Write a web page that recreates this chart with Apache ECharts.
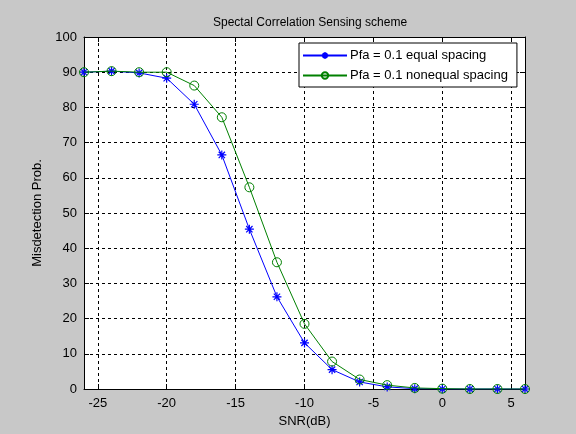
<!DOCTYPE html>
<html>
<head>
<meta charset="utf-8">
<script src="https://cdn.jsdelivr.net/npm/echarts@6/dist/echarts.min.js"></script>
<style>
  html, body { margin: 0; padding: 0; background: #c8c8c8; }
  #chart { width: 576px; height: 434px; }
</style>
</head>
<body>
<div id="chart"></div>
<script>
const snr = [-26, -24, -22, -20, -18, -16, -14, -12, -10, -8, -6, -4, -2, 0, 2, 4, 6]
const equalSpacing = [90, 90.3, 89.8, 88.3, 80.9, 66.5, 45.4, 26.2, 13.1, 5.5, 2.0, 0.6, 0.1, 0, 0, 0, 0]
const nonequalSpacing = [90, 90.3, 90, 90, 86.2, 77.2, 57.3, 36.0, 18.5, 7.8, 2.7, 1.1, 0.3, 0.1, 0, 0, 0]
const xTicks = [-25, -20, -15, -10, -5, 0, 5]

const font = 'Liberation Sans, Arial, sans-serif'
const star = 'path://M5,0L5,10M0,5L10,5M1.5,1.5L8.5,8.5M1.5,8.5L8.5,1.5'

const chart = echarts.init(document.getElementById('chart'))

const xBase = {
  type: 'value',
  min: -26,
  max: 6,
  axisLine: { show: true, onZero: false, lineStyle: { color: '#000', width: 1 } },
  axisTick: { show: true, inside: true, length: 5, customValues: xTicks, lineStyle: { color: '#000' } },
}
const yBase = {
  type: 'value',
  min: 0,
  max: 100,
  interval: 10,
  axisLine: { show: true, onZero: false, lineStyle: { color: '#000', width: 1 } },
  axisTick: { show: true, inside: true, length: 5, lineStyle: { color: '#000' } },
}

chart.setOption({
  backgroundColor: '#c8c8c8',
  animation: false,
  title: {
    text: 'Spectal Correlation Sensing scheme',
    left: 305,
    textAlign: 'center',
    top: 12,
    textStyle: { color: '#000', fontSize: 12, fontWeight: 'normal', fontFamily: font },
  },
  legend: {
    left: 299,
    top: 43,
    orient: 'vertical',
    backgroundColor: '#fff',
    borderColor: '#000',
    borderWidth: 1,
    borderRadius: 0,
    padding: [6, 9, 5, 3],
    itemGap: 7,
    itemWidth: 44,
    itemHeight: 8,
    textStyle: { color: '#000', fontSize: 13, fontFamily: font, padding: [0, 0, 0, -2] },
    data: ['Pfa = 0.1 equal spacing', 'Pfa = 0.1 nonequal spacing'],
  },
  grid: { left: 84, right: 51, top: 37, bottom: 45, show: true, backgroundColor: '#fff', borderWidth: 0 },
  xAxis: [
    {
      ...xBase,
      position: 'bottom',
      name: 'SNR(dB)',
      nameLocation: 'middle',
      nameGap: 22,
      nameTextStyle: { color: '#000', fontSize: 13, fontFamily: font },
      axisLabel: { color: '#000', fontSize: 13, fontFamily: font, margin: 8, customValues: xTicks },
      splitLine: { show: true, lineStyle: { color: '#000', type: [3, 3], width: 1 } },
    },
    {
      ...xBase,
      position: 'top',
      axisLabel: { show: false },
      splitLine: { show: false },
    },
  ],
  yAxis: [
    {
      ...yBase,
      position: 'left',
      name: 'Misdetection Prob.',
      nameLocation: 'middle',
      nameGap: 34,
      nameTextStyle: { color: '#000', fontSize: 13, fontFamily: font },
      axisLabel: { color: '#000', fontSize: 13, fontFamily: font, margin: 7 },
      splitLine: { show: true, lineStyle: { color: '#000', type: [3, 3], width: 1 } },
    },
    {
      ...yBase,
      position: 'right',
      axisLabel: { show: false },
      splitLine: { show: false },
    },
  ],
  series: [
    {
      name: 'Pfa = 0.1 equal spacing',
      type: 'line',
      data: snr.map((x, i) => [x, equalSpacing[i]]),
      symbol: star,
      symbolSize: 9,
      showAllSymbol: true,
      lineStyle: { color: '#0000ff', width: 1 },
      itemStyle: { color: 'transparent', borderColor: '#0000ff', borderWidth: 1.2 },
      z: 2,
    },
    {
      name: 'Pfa = 0.1 nonequal spacing',
      type: 'line',
      data: snr.map((x, i) => [x, nonequalSpacing[i]]),
      symbol: 'circle',
      symbolSize: 9,
      showAllSymbol: true,
      lineStyle: { color: '#008000', width: 1 },
      itemStyle: { color: 'transparent', borderColor: '#008000', borderWidth: 1 },
      z: 3,
    },
  ],
})
</script>
</body>
</html>
